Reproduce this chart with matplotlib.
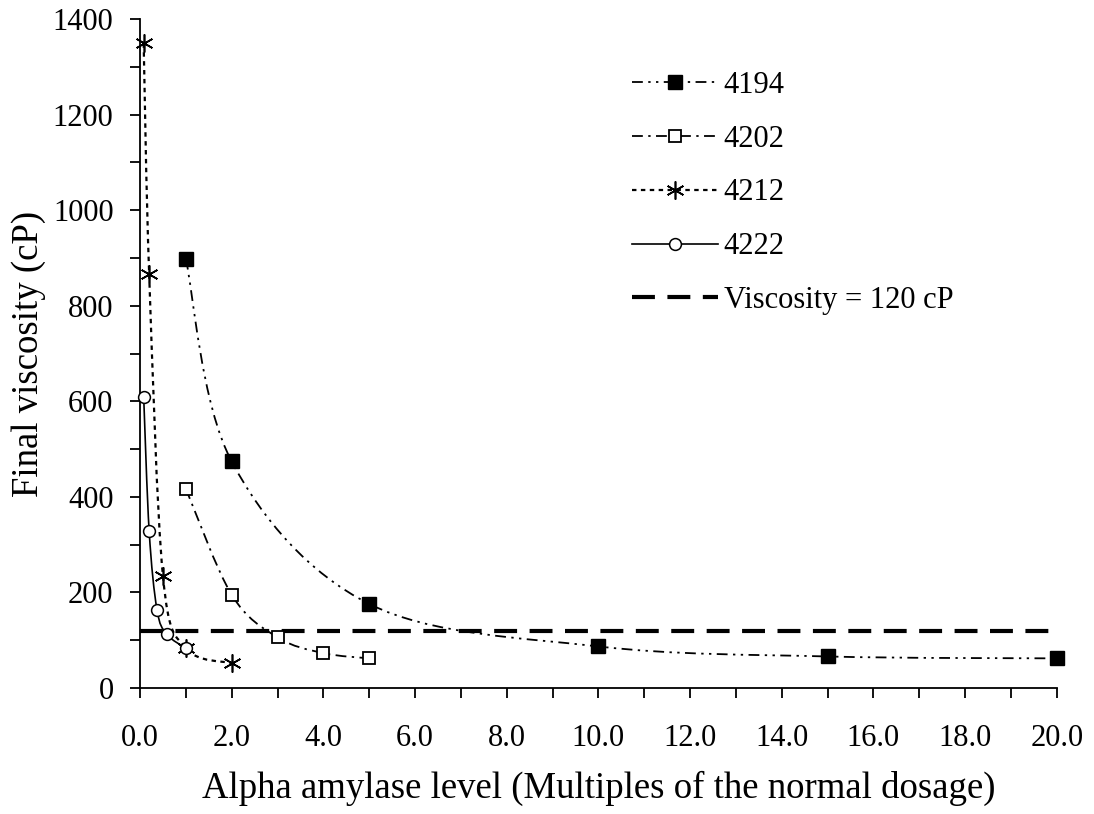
import numpy as np
import matplotlib
matplotlib.use("Agg")
import matplotlib.pyplot as plt
from matplotlib.path import Path
from matplotlib.patches import PathPatch
from matplotlib.lines import Line2D
from matplotlib.ticker import MultipleLocator, FormatStrFormatter

plt.rcParams['font.family'] = ['Liberation Serif', 'DejaVu Serif']

# ---- data ----
x_4194 = [1, 2, 5, 10, 15, 20]
y_4194 = [898, 474, 176, 87, 66, 62]

x_4202 = [1, 2, 3, 4, 5]
y_4202 = [417, 195, 106, 73, 62]

x_4212 = [0.08, 0.2, 0.5, 1, 2]
y_4212 = [1349, 866, 235, 83, 52]

x_4222 = [0.08, 0.2, 0.37, 0.58, 1]
y_4222 = [610, 328, 164, 113, 83]

threshold = 120
threshold_label = "Viscosity = 120 cP"
series_names = ["4194", "4202", "4212", "4222"]

FS = 22
LFS = 26.5

fig = plt.figure(figsize=(10.94, 8.14), dpi=100)
ax = fig.add_axes([140/1094, 1-688/814, (1056.7-140)/1094, (688-19)/814])


def smooth_path(xs, ys):
    """Excel-like smoothed line: cubic Bezier segments through the data points."""
    P = np.column_stack([xs, ys]).astype(float)
    n = len(P)
    verts = [P[0]]
    codes = [Path.MOVETO]
    for i in range(n - 1):
        p0 = P[i - 1] if i > 0 else P[i]
        p1 = P[i]
        p2 = P[i + 1]
        p3 = P[i + 2] if i + 2 < n else P[i + 1]
        c1 = p1 + (p2 - p0) / 6.0
        c2 = p2 - (p3 - p1) / 6.0
        verts += [c1, c2, p2]
        codes += [Path.CURVE4] * 3
    return Path(verts, codes)


styles = {
    "4194": dict(ls=(0, (6, 3, 1.3, 3, 1.3, 3)), lw=1.3, marker='s', ms=9.5, mfc='black', mec='black', mew=1.0),
    "4202": dict(ls=(0, (6, 3, 1.3, 3)), lw=1.3, marker='s', ms=9.0, mfc='white', mec='black', mew=1.3),
    "4212": dict(ls=(0, (2, 2)), lw=1.6, marker=(6, 2, 0), ms=13, mfc='black', mec='black', mew=1.2),
    "4222": dict(ls='-', lw=1.2, marker='o', ms=8.5, mfc='white', mec='black', mew=1.1),
}

data = {"4194": (x_4194, y_4194), "4202": (x_4202, y_4202),
        "4212": (x_4212, y_4212), "4222": (x_4222, y_4222)}

handles = []
for name in series_names:
    xs, ys = data[name]
    st = styles[name]
    patch = PathPatch(smooth_path(xs, ys), fill=False, edgecolor='black',
                      linewidth=st['lw'], linestyle=st['ls'], zorder=3)
    ax.add_patch(patch)
    ax.plot(xs, ys, linestyle='none', marker=st['marker'], markersize=st['ms'],
            markerfacecolor=st['mfc'], markeredgecolor=st['mec'],
            markeredgewidth=st['mew'], zorder=4, clip_on=False)
    handles.append(Line2D([], [], color='black', linestyle=st['ls'], linewidth=st['lw'],
                          marker=st['marker'], markersize=st['ms'],
                          markerfacecolor=st['mfc'], markeredgecolor=st['mec'],
                          markeredgewidth=st['mew'], label=name))

ax.axhline(threshold, color='black', linewidth=3.0, linestyle=(0, (5.5, 3)), zorder=2)
handles.append(Line2D([], [], color='black', linewidth=3.0, linestyle=(0, (5.5, 3)),
                      label=threshold_label))

ax.set_xlim(0, 20)
ax.set_ylim(0, 1400)
ax.xaxis.set_major_locator(MultipleLocator(2))
ax.xaxis.set_minor_locator(MultipleLocator(1))
ax.xaxis.set_major_formatter(FormatStrFormatter('%.1f'))
ax.yaxis.set_major_locator(MultipleLocator(200))
ax.yaxis.set_minor_locator(MultipleLocator(100))

for s in ['top', 'right']:
    ax.spines[s].set_visible(False)
for s in ['left', 'bottom']:
    ax.spines[s].set_linewidth(1.3)

ax.tick_params(axis='both', which='both', direction='out', length=7, width=1.3)
ax.tick_params(axis='x', which='major', pad=19, labelsize=FS)
ax.tick_params(axis='y', which='major', pad=12, labelsize=FS)

ax.set_xlabel("Alpha amylase level (Multiples of the normal dosage)", fontsize=LFS)
ax.set_ylabel("Final viscosity (cP)", fontsize=LFS)
ax.xaxis.set_label_coords(0.5, (688 - 771) / 669)
ax.yaxis.set_label_coords((46 - 140) / 916.7, 0.5)

leg = ax.legend(handles=handles, loc='upper left',
                bbox_to_anchor=((632 - 140) / 916.7, (688 - 71) / 669),
                frameon=False, fontsize=FS, handlelength=2.8, handletextpad=0.2,
                labelspacing=0.81, borderaxespad=0, borderpad=0)

fig.savefig("out.png", dpi=100)
